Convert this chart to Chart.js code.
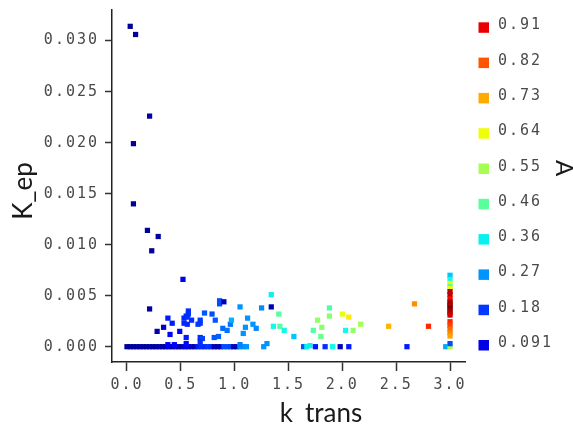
<!DOCTYPE html>
<html>
<head>
<meta charset="utf-8">
<script src="https://cdn.jsdelivr.net/npm/chart.js@4"></script>
<style>
  body { margin: 0; background: #fff; }
  canvas { display: block; }
</style>
</head>
<body>
<canvas id="chart" width="573" height="424"></canvas>
<script>
// k_trans, K_ep and A values
const kTrans = [
    0.03, 0.08, 0.21, 0.06, 0.06, 0.19, 0.29, 0.23, 0.52, 0.21,
    0.00, 0.03, 0.06, 0.09, 0.12, 0.15, 0.18, 0.21, 0.24, 0.27, 0.30, 0.33, 0.36, 0.39, 0.42,
    0.45, 0.48, 0.51, 0.54, 0.57, 0.60, 0.63, 0.66, 0.69, 0.72, 0.75, 0.78, 0.81, 0.84, 0.87,
    0.90, 0.93, 0.96, 0.99, 1.02, 1.05, 1.08, 1.11,
    0.38, 0.44, 0.55, 1.05,
    0.57, 0.57, 0.55, 0.86, 0.86, 0.90, 0.72, 0.79, 1.05, 1.25, 1.34, 1.34, 1.41,
    0.38, 0.42, 0.34, 0.28, 0.40, 0.49, 0.53, 0.53, 0.56, 0.56, 0.60, 0.55,
    0.66, 0.68, 0.68, 0.68, 0.70, 0.68, 0.82, 0.81, 0.85, 0.89, 0.93, 0.96, 0.97,
    1.12, 1.10, 1.17, 1.20, 1.08, 1.36, 1.42, 1.46, 1.55,
    1.77, 1.73, 1.81, 1.80, 1.88, 1.88, 2.00, 2.06, 2.03, 2.10, 2.17,
    2.43, 2.67, 2.80, 2.60,
    1.27, 1.30, 1.64, 1.67, 1.70, 1.75, 1.84, 1.91, 1.98, 2.06, 2.96, 3.00, 3.00,
    3.00, 3.00, 3.00, 3.00, 3.00, 3.00, 3.00, 3.00, 3.00, 3.00,
    3.00, 3.00, 3.00, 3.00, 3.00, 3.00, 3.00, 3.00, 3.00, 3.00
];
const kEp = [
    0.0314, 0.0306, 0.0226, 0.0199, 0.0140, 0.0114, 0.0108, 0.0094, 0.0066, 0.0037,
    0, 0, 0, 0, 0, 0, 0, 0, 0, 0, 0, 0, 0, 0, 0,
    0, 0, 0, 0, 0, 0, 0, 0, 0, 0, 0, 0, 0, 0, 0,
    0, 0, 0, 0, 0, 0, 0, 0,
    0.0002, 0.0002, 0.0003, 0.0002,
    0.0035, 0.0032, 0.0030, 0.0045, 0.0042, 0.0044, 0.0033, 0.0032, 0.0039, 0.0038, 0.0051, 0.0039, 0.0032,
    0.0028, 0.0023, 0.0019, 0.0015, 0.0012, 0.0015, 0.0028, 0.0023, 0.0029, 0.0022, 0.0026, 0.0009,
    0.0022, 0.0026, 0.0023, 0.0009, 0.0008, 0.0005, 0.0026, 0.0009, 0.0010, 0.0018, 0.0016, 0.0022, 0.0026,
    0.0028, 0.0019, 0.0022, 0.0018, 0.0013, 0.0020, 0.0020, 0.0016, 0.0010,
    0.0026, 0.0016, 0.0019, 0.0010, 0.0038, 0.0030, 0.0032, 0.0029, 0.0016, 0.0016, 0.0022,
    0.0020, 0.0042, 0.0020, 0.0000,
    0.0000, 0.0003, 0.0000, 0.0000, 0.0001, 0.0000, 0.0000, 0.0000, 0.0000, 0.0000, 0.0000, 0.0000, 0.0003,
    0.0070, 0.0066, 0.0062, 0.0059, 0.0057, 0.0054, 0.0051, 0.0047, 0.0044, 0.0042,
    0.0040, 0.0038, 0.0035, 0.0033, 0.0031, 0.00245, 0.0021, 0.00174, 0.00137, 0.00105
];
const aValues = [
    0.02, 0.02, 0.03, 0.02, 0.02, 0.02, 0.03, 0.02, 0.09, 0.03,
    0.02, 0.02, 0.02, 0.03, 0.02, 0.03, 0.02, 0.04, 0.03, 0.02, 0.05, 0.03, 0.04, 0.09, 0.03,
    0.09, 0.04, 0.05, 0.09, 0.09, 0.05, 0.04, 0.15, 0.17, 0.16, 0.18, 0.17, 0.04, 0.04, 0.05,
    0.20, 0.20, 0.19, 0.05, 0.05, 0.27, 0.27, 0.27,
    0.12, 0.12, 0.13, 0.25,
    0.17, 0.17, 0.16, 0.20, 0.20, 0.05, 0.21, 0.20, 0.27, 0.26, 0.36, 0.05, 0.46,
    0.15, 0.15, 0.07, 0.04, 0.13, 0.11, 0.16, 0.16, 0.17, 0.16, 0.17, 0.15,
    0.18, 0.18, 0.18, 0.17, 0.19, 0.17, 0.21, 0.21, 0.22, 0.23, 0.24, 0.24, 0.30,
    0.27, 0.27, 0.27, 0.26, 0.27, 0.37, 0.45, 0.37, 0.32,
    0.53, 0.45, 0.52, 0.48, 0.44, 0.52, 0.63, 0.66, 0.37, 0.53, 0.55,
    0.72, 0.76, 0.87, 0.15,
    0.27, 0.27, 0.21, 0.36, 0.36, 0.15, 0.17, 0.37, 0.05, 0.15, 0.29, 0.55, 0.20,
    0.32, 0.37, 0.63, 0.45, 0.64, 0.95, 0.95, 0.90, 0.95, 0.98,
    0.96, 1.00, 0.97, 0.96, 0.93, 0.87, 0.84, 0.80, 0.77, 0.74
];

const xTicks = [0, 0.5, 1, 1.5, 2, 2.5, 3];
const yTicks = [0, 0.005, 0.01, 0.015, 0.02, 0.025, 0.03];
const legendValues = [0.91, 0.82, 0.73, 0.64, 0.55, 0.46, 0.36, 0.27, 0.18, 0.091];
const legendLabels = ["0.91", "0.82", "0.73", "0.64", "0.55", "0.46", "0.36", "0.27", "0.18", "0.091"];

// jet colour map, same breakpoints as matplotlib
function interp(stops, v) {
    for (let i = 1; i < stops.length; i++) {
        if (v <= stops[i][0]) {
            const [x0, y0] = stops[i - 1];
            const [x1, y1] = stops[i];
            return y0 + (y1 - y0) * (v - x0) / (x1 - x0);
        }
    }
    return stops[stops.length - 1][1];
}
function jet(v) {
    v = Math.min(1, Math.max(0, v));
    const r = interp([[0, 0], [0.35, 0], [0.66, 1], [0.89, 1], [1, 0.5]], v);
    const g = interp([[0, 0], [0.125, 0], [0.375, 1], [0.64, 1], [0.91, 0], [1, 0]], v);
    const b = interp([[0, 0.5], [0.11, 1], [0.34, 1], [0.65, 0], [1, 0]], v);
    return `rgb(${Math.round(r * 255)}, ${Math.round(g * 255)}, ${Math.round(b * 255)})`;
}

const points = kTrans.map((x, i) => ({ x: x, y: kEp[i] }));
const colors = aValues.map(a => jet(a));

const monoFont = "'DejaVu Sans Mono', monospace";
const titleFont = "Lato, 'Open Sans', sans-serif";
const labelGray = "#4a4a4a";

const extrasPlugin = {
    id: "extras",
    beforeDraw(chart) {
        chart.ctx.letterSpacing = "2px";
    },
    afterDraw(chart) {
        const ctx = chart.ctx;
        ctx.save();
        // legend
        ctx.letterSpacing = "2px";
        ctx.font = `15px ${monoFont}`;
        ctx.textAlign = "left";
        ctx.textBaseline = "alphabetic";
        legendValues.forEach((v, i) => {
            const base = 29.3 + 35.3 * i;
            ctx.fillStyle = jet(v);
            ctx.fillRect(478.5, base - 7, 10.5, 10.5);
            ctx.fillStyle = labelGray;
            ctx.fillText(legendLabels[i], 498, base);
        });
        // axis titles
        ctx.letterSpacing = "0px";
        ctx.fillStyle = "#1a1a1a";
        ctx.font = `26px ${titleFont}`;
        ctx.textAlign = "center";
        ctx.fillText("k_trans", 321, 422);

        ctx.save();
        ctx.translate(32, 191);
        ctx.rotate(-Math.PI / 2);
        ctx.fillText("K_ep", 0, 0);
        ctx.restore();

        ctx.save();
        ctx.font = `24px ${titleFont}`;
        ctx.translate(556, 168);
        ctx.rotate(Math.PI / 2);
        ctx.fillText("A", 0, 0);
        ctx.restore();

        ctx.restore();
    }
};

new Chart(document.getElementById("chart"), {
    type: "scatter",
    data: {
        datasets: [{
            data: points,
            pointStyle: "rect",
            pointRadius: 3.7,
            pointHoverRadius: 3.7,
            pointBorderWidth: 0,
            pointBackgroundColor: colors,
            pointBorderColor: colors
        }]
    },
    options: {
        responsive: false,
        animation: false,
        events: [],
        layout: { padding: { top: 10, right: 108, left: 0, bottom: 0 } },
        plugins: {
            legend: { display: false },
            tooltip: { enabled: false }
        },
        scales: {
            x: {
                type: "linear",
                min: -0.139,
                max: 3.139,
                afterBuildTicks: s => { s.ticks = xTicks.map(v => ({ value: v })); },
                afterFit: s => { s.height = 62; s.paddingLeft = 0; s.paddingRight = 0; },
                grid: { drawOnChartArea: false, drawTicks: true, tickLength: 9, tickColor: "#333", tickWidth: 1.5 },
                border: { display: true, color: "#222", width: 1.5 },
                ticks: {
                    padding: 5,
                    color: labelGray,
                    font: { family: monoFont, size: 15 },
                    callback: v => v.toFixed(1)
                }
            },
            y: {
                type: "linear",
                min: -0.0015,
                max: 0.033,
                afterBuildTicks: s => { s.ticks = yTicks.map(v => ({ value: v })); },
                afterFit: s => { s.width = 112; s.paddingTop = 0; s.paddingBottom = 0; },
                grid: { drawOnChartArea: false, drawTicks: true, tickLength: 7, tickColor: "#333", tickWidth: 1.5 },
                border: { display: true, color: "#222", width: 1.5 },
                ticks: {
                    padding: 6,
                    color: labelGray,
                    font: { family: monoFont, size: 15 },
                    callback: v => v.toFixed(3)
                }
            }
        }
    },
    plugins: [extrasPlugin]
});
</script>
</body>
</html>
